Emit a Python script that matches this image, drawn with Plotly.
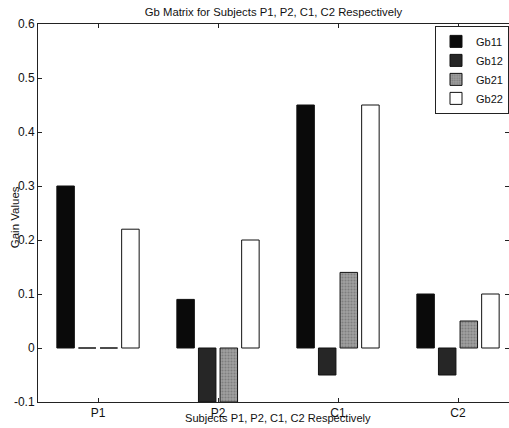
import plotly.graph_objects as go

categories = ["P1", "P2", "C1", "C2"]
gb11 = [0.30, 0.09, 0.45, 0.10]
gb12 = [0.0, -0.10, -0.05, -0.05]
gb21 = [0.0, -0.10, 0.14, 0.05]
gb22 = [0.22, 0.20, 0.45, 0.10]
y_ticks = [-0.1, 0, 0.1, 0.2, 0.3, 0.4, 0.5, 0.6]
y_tick_labels = ["-0.1", "0", "0.1", "0.2", "0.3", "0.4", "0.5", "0.6"]

FONT = "Liberation Sans, Arial, sans-serif"

fig = go.Figure()
series = [
    ("Gb11", gb11, dict(color="#0a0a0a")),
    ("Gb12", gb12, dict(color="#262626")),
    ("Gb21", gb21, dict(color="#8c8c8c", pattern=dict(shape=".", fgcolor="#5e5e5e", bgcolor="#a0a0a0", size=3, solidity=0.4))),
    ("Gb22", gb22, dict(color="#ffffff")),
]
for name, vals, m in series:
    m = dict(m)
    m["line"] = dict(color="#111111", width=1)
    fig.add_trace(go.Bar(name=name, x=categories, y=vals, marker=m))

fig.update_layout(
    width=509, height=428,
    margin=dict(l=38, r=0, t=24, b=26),
    paper_bgcolor="white", plot_bgcolor="white",
    barmode="group", bargap=0.28, bargroupgap=0.19,
    font=dict(family=FONT, size=11, color="#111"),
    showlegend=True,
    legend=dict(x=1, xanchor="right", y=0.995, yanchor="top",
                bgcolor="white", bordercolor="#222", borderwidth=1,
                font=dict(size=11), tracegroupgap=0, itemwidth=30),
    title=dict(text="Gb Matrix for Subjects P1, P2, C1, C2 Respectively",
               x=0.5, xref="paper", xanchor="center", y=1, yref="container",
               yanchor="top", pad=dict(t=8), font=dict(size=11.3)),
)
fig.update_xaxes(
    range=[-0.5, 3.425], showline=True, linecolor="#222", linewidth=1,
    mirror="ticks", ticks="inside", ticklen=4, tickcolor="#222",
    showgrid=False, zeroline=False, tickfont=dict(size=12),
)
fig.update_yaxes(
    range=[-0.1, 0.6], tickvals=y_ticks, ticktext=y_tick_labels,
    showline=True, linecolor="#222", linewidth=1, mirror="ticks",
    ticks="inside", ticklen=4, tickcolor="#222", showgrid=False, zeroline=False,
    tickfont=dict(size=12),
)
fig.add_annotation(text="Gain Values", xref="paper", yref="paper", x=-0.05, y=0.49,
                   textangle=-90, showarrow=False, font=dict(size=11.5),
                   xanchor="center", yanchor="middle")
fig.add_annotation(text="Subjects P1, P2, C1, C2 Respectively", xref="paper", yref="paper",
                   x=0.51, y=-0.022, yanchor="top", showarrow=False, font=dict(size=11.1))
fig.write_html("out.html")
